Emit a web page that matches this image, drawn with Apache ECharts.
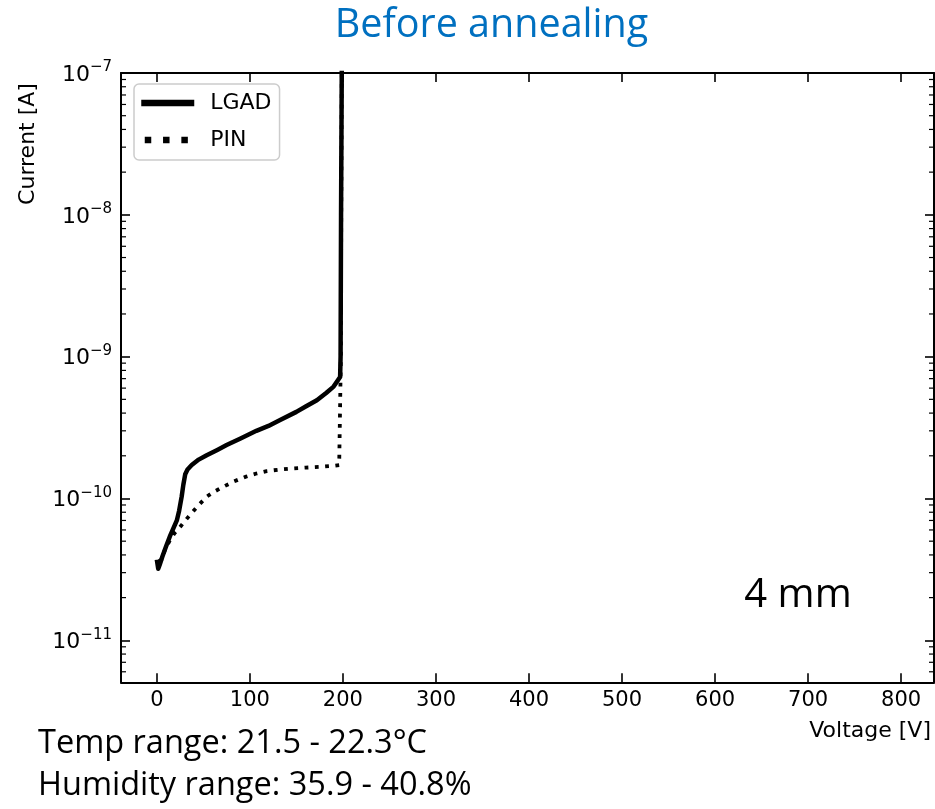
<!DOCTYPE html>
<html>
<head>
<meta charset="utf-8">
<script src="https://cdn.jsdelivr.net/npm/echarts@6/dist/echarts.min.js"></script>
<style>
	html, body { margin: 0; padding: 0; background: #fff; }
	#main { width: 935px; height: 809px; }
</style>
</head>
<body>
<div id="main"></div>
<script>
// LGAD curve: voltage [V] and current [A]
const lgadVoltage = [0, 1.5, 3, 6, 10, 14, 18, 21.5, 24, 26.7, 28.5, 30.5, 33, 37.5, 45, 53.6, 65, 75, 90, 107, 120, 132, 150, 160, 172, 182, 190, 197, 197.5, 198, 198.9];
const lgadCurrent = [3.7e-11, 3.2e-11, 3.4e-11, 3.9e-11, 4.6e-11, 5.4e-11, 6.2e-11, 7.0e-11, 8.2e-11, 1.03e-10, 1.25e-10, 1.48e-10, 1.6e-10, 1.72e-10, 1.88e-10, 2.02e-10, 2.2e-10, 2.38e-10, 2.65e-10, 3.0e-10, 3.25e-10, 3.56e-10, 4.08e-10, 4.45e-10, 4.93e-10, 5.55e-10, 6.15e-10, 7.2e-10, 1e-9, 1e-8, 1.5e-7];

// PIN curve
const pinVoltage = [2, 5, 9, 14, 19, 25, 33, 43, 53.6, 62, 71.5, 83, 95, 107, 118, 132, 147, 160, 175, 190, 196, 197.5, 197.8, 198.2, 198.9];
const pinCurrent = [3.6e-11, 3.7e-11, 4.4e-11, 5.07e-11, 5.7e-11, 6.3e-11, 7.3e-11, 8.7e-11, 1.03e-10, 1.12e-10, 1.21e-10, 1.32e-10, 1.42e-10, 1.5e-10, 1.56e-10, 1.6e-10, 1.63e-10, 1.65e-10, 1.67e-10, 1.7e-10, 1.72e-10, 1.75e-10, 1e-9, 1e-8, 1.5e-7];

const seriesNames = ['LGAD', 'PIN'];

// axis limits (current axis is in log10 units)
const X_MIN = -38.5;
const X_MAX = 835.3;
const Y_MIN = -11.296;
const Y_MAX = -7;

// minor ticks of the log axis: 2..9 x 10^n
const minorTickValues = [];
for ( let e = -12; e <= -8; e++ ) {
	for ( let k = 2; k <= 9; k++ ) {
		const v = Math.log10( k * Math.pow( 10, e ) );
		if ( v > Y_MIN + 0.005 && v < Y_MAX ) {
			minorTickValues.push( v );
		}
	}
}

const toLog = function ( xs, ys ) {
	return xs.map( ( x, i ) => [ x, Math.log10( ys[i] ) ] );
};

const axisFont = 'DejaVu Sans';
const officeFont = 'Open Sans';

const tickLine = { color: '#000', width: 1.6 };
const spine = { show: true, onZero: false, lineStyle: { color: '#000', width: 2 } };

const chart = echarts.init( document.getElementById( 'main' ), null, { renderer: 'canvas' } );

const option = {
	animation: false,
	backgroundColor: '#fff',
	grid: { left: 121, right: 1, top: 73, bottom: 126.7, containLabel: false },
	legend: {
		orient: 'vertical',
		left: 134,
		top: 84,
		padding: [ 8, 8, 9, 4 ],
		itemWidth: 53,
		itemHeight: 22,
		itemGap: 15,
		borderColor: '#cccccc',
		borderWidth: 1.5,
		borderRadius: 5,
		backgroundColor: 'rgba(255,255,255,0.8)',
		itemStyle: { opacity: 0 },
		textStyle: { fontFamily: axisFont, fontSize: 22, color: '#000', lineHeight: 22, padding: [ 0, 0, 0, 11 ] },
		data: [
			{ name: seriesNames[0], lineStyle: { width: 6.5, type: 'solid', color: '#000' } },
			{ name: seriesNames[1], lineStyle: { width: 6.5, type: [ 6.5, 11.8 ], dashOffset: -3.5, cap: 'butt', color: '#000' } }
		]
	},
	xAxis: [
		{
			type: 'value',
			position: 'bottom',
			min: X_MIN,
			max: X_MAX,
			splitNumber: 9,
			axisLine: spine,
			axisTick: { show: true, inside: true, length: 9, lineStyle: tickLine },
			splitLine: { show: false },
			axisLabel: {
				show: true, margin: 8, showMinLabel: false, showMaxLabel: false,
				fontFamily: axisFont, fontSize: 21, color: '#000'
			}
		},
		{
			type: 'value',
			position: 'top',
			min: X_MIN,
			max: X_MAX,
			splitNumber: 9,
			axisLine: spine,
			axisTick: { show: true, inside: true, length: 9, lineStyle: tickLine },
			splitLine: { show: false },
			axisLabel: { show: false }
		}
	],
	yAxis: [
		{
			type: 'value',
			position: 'left',
			min: Y_MIN,
			max: Y_MAX,
			splitNumber: 4,
			axisLine: spine,
			axisTick: { show: true, inside: true, length: 9, lineStyle: tickLine },
			splitLine: { show: false },
			axisLabel: {
				show: true,
				margin: 9,
				showMinLabel: false,
				formatter: function ( v ) {
					if ( Math.abs( v - Math.round( v ) ) > 1e-6 ) {
						return '';
					}
					return '{b|10}{s|\u2212' + Math.abs( Math.round( v ) ) + '}';
				},
				rich: {
					b: { fontFamily: axisFont, fontSize: 22, color: '#000', lineHeight: 26, verticalAlign: 'bottom' },
					s: { fontFamily: axisFont, fontSize: 15, color: '#000', lineHeight: 15, verticalAlign: 'top' }
				}
			}
		},
		{
			type: 'value',
			position: 'right',
			min: Y_MIN,
			max: Y_MAX,
			splitNumber: 4,
			axisLine: spine,
			axisTick: { show: true, inside: true, length: 9, lineStyle: tickLine },
			splitLine: { show: false },
			axisLabel: { show: false }
		}
	],
	series: [
		{
			name: seriesNames[0],
			type: 'line',
			symbol: 'none',
			clip: true,
			lineStyle: { color: '#000', width: 4.5, type: 'solid', join: 'round' },
			itemStyle: { color: '#000' },
			data: toLog( lgadVoltage, lgadCurrent ),
			z: 3
		},
		{
			name: seriesNames[1],
			type: 'line',
			symbol: 'none',
			clip: true,
			lineStyle: { color: '#000', width: 3.8, type: [ 3.8, 6.5 ], cap: 'butt' },
			itemStyle: { color: '#000' },
			data: toLog( pinVoltage, pinCurrent ),
			z: 4
		},
		{
			// minor ticks on the left and right spines
			type: 'custom',
			silent: true,
			clip: false,
			xAxisIndex: 0,
			yAxisIndex: 0,
			data: minorTickValues.map( v => [ X_MIN, v ] ),
			renderItem: function ( params, api ) {
				const l = api.coord( [ X_MIN, api.value( 1 ) ] );
				const r = api.coord( [ X_MAX, api.value( 1 ) ] );
				const st = { stroke: '#000', lineWidth: 1.2 };
				return {
					type: 'group',
					children: [
						{ type: 'line', shape: { x1: l[0], y1: l[1], x2: l[0] + 5, y2: l[1] }, style: st },
						{ type: 'line', shape: { x1: r[0], y1: r[1], x2: r[0] - 5, y2: r[1] }, style: st }
					]
				};
			},
			z: 5
		}
	],
	graphic: [
		{
			type: 'text', x: 491.5, y: 26,
			style: { text: 'Before annealing', fill: '#0070C0', fontFamily: officeFont, fontSize: 39.5, textAlign: 'center', textVerticalAlign: 'middle' }
		},
		{
			type: 'text', x: 28, y: 144, rotation: Math.PI / 2,
			style: { text: 'Current [A]', fill: '#000', fontFamily: axisFont, fontSize: 22, textAlign: 'center', textVerticalAlign: 'middle' }
		},
		{
			type: 'text', x: 931, y: 731,
			style: { text: 'Voltage [V]', fill: '#000', fontFamily: axisFont, fontSize: 22, textAlign: 'right', textVerticalAlign: 'middle' }
		},
		{
			type: 'text', x: 798, y: 596,
			style: { text: '4 mm', fill: '#000', fontFamily: officeFont, fontSize: 40, textAlign: 'center', textVerticalAlign: 'middle' }
		},
		{
			type: 'text', x: 38, y: 744,
			style: { text: 'Temp range: 21.5 - 22.3°C', fill: '#000', fontFamily: officeFont, fontSize: 32.5, textAlign: 'left', textVerticalAlign: 'middle' }
		},
		{
			type: 'text', x: 38, y: 786,
			style: { text: 'Humidity range: 35.9 - 40.8%', fill: '#000', fontFamily: officeFont, fontSize: 32.5, textAlign: 'left', textVerticalAlign: 'middle' }
		}
	]
};

chart.setOption( option );
</script>
</body>
</html>
